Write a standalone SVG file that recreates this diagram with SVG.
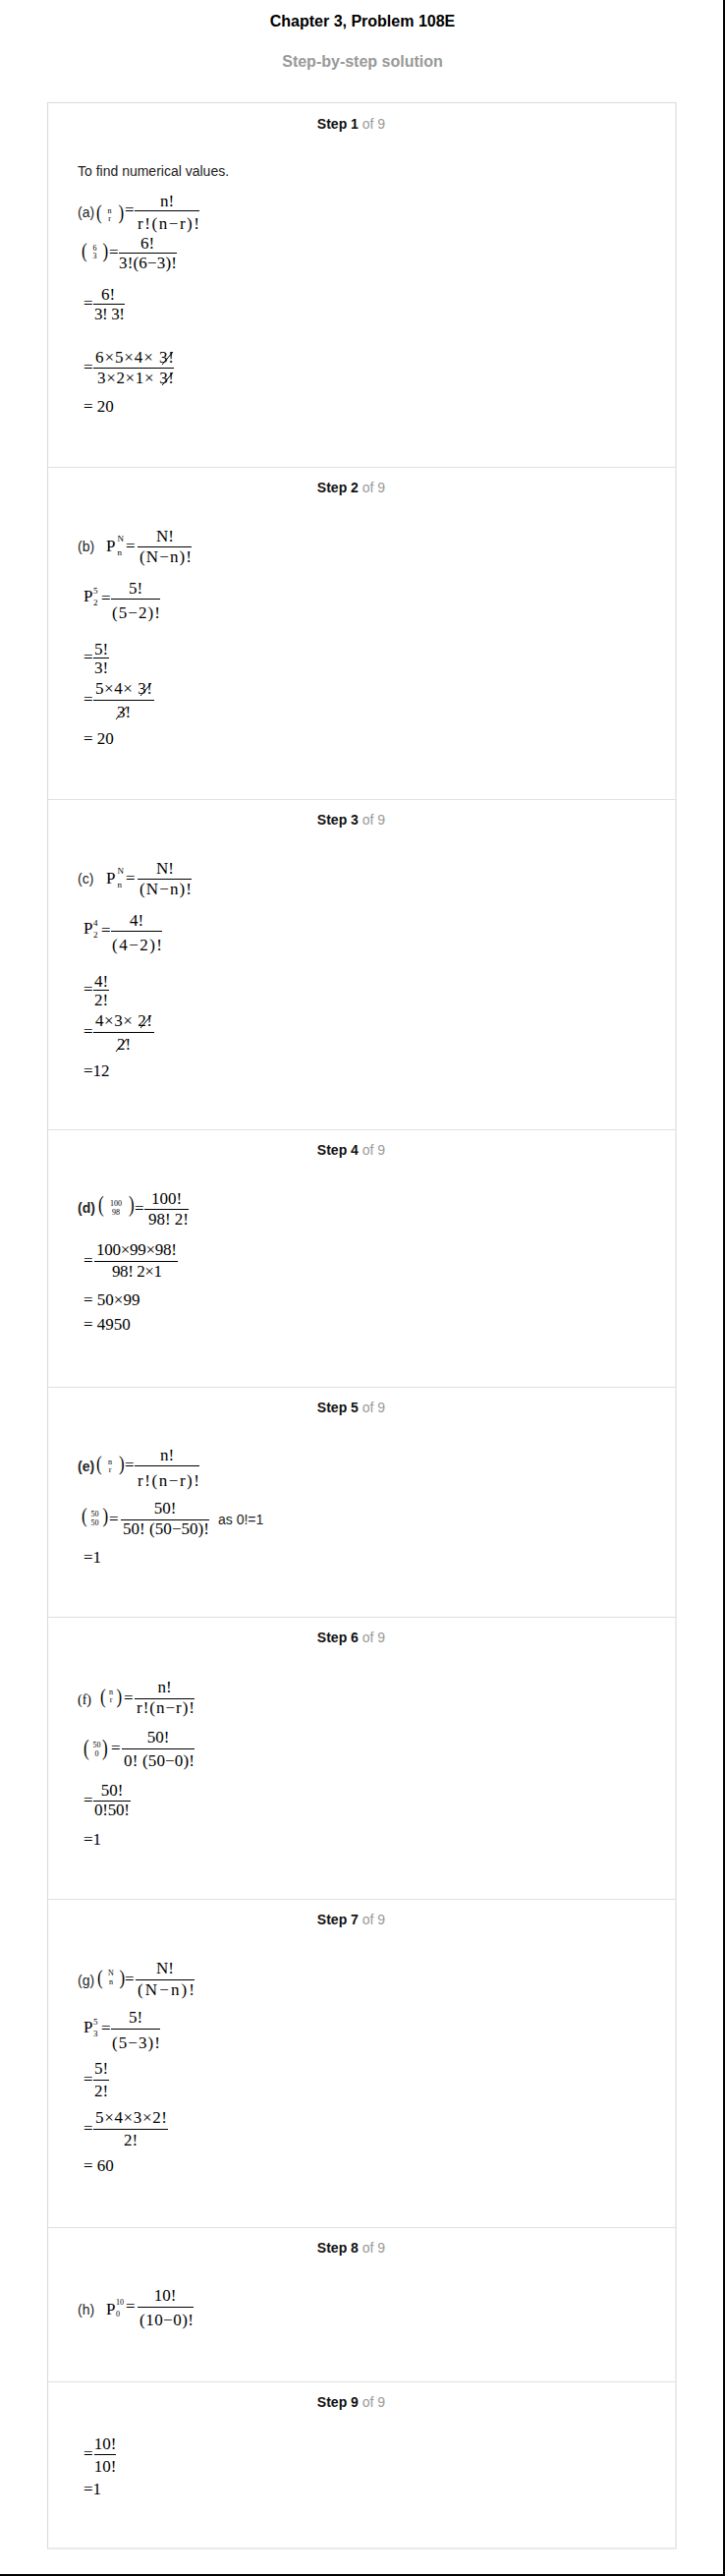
<svg xmlns="http://www.w3.org/2000/svg" width="738" height="2621" viewBox="0 0 738 2621">
<style>
.t{font-family:"Liberation Sans",Arial,sans-serif;font-size:14px;fill:#222}
.b{font-weight:bold}
.ttl{font-family:"Liberation Sans",Arial,sans-serif;font-size:16px;font-weight:bold;text-anchor:middle}
.hd{font-family:"Liberation Sans",Arial,sans-serif;font-size:14px;text-anchor:middle;fill:#111}
.of{font-weight:normal;fill:#999}
.m{font-family:"Liberation Serif","Times New Roman",serif;font-size:17px;fill:#000}
.s{font-family:"Liberation Serif","Times New Roman",serif;font-size:8px;fill:#000;text-anchor:middle}
.sp{font-family:"Liberation Serif","Times New Roman",serif;font-size:9px;fill:#000}
.c{text-anchor:middle}
.fl{stroke:#000;stroke-width:1}
.div{stroke:#e0e0e0;stroke-width:1}
</style>
<rect x="0" y="0" width="738" height="2621" fill="#fff"/>
<rect x="736" y="0" width="2" height="2621" fill="#000"/>
<rect x="0" y="2619" width="738" height="2" fill="#000"/>
<text class="ttl" x="369" y="27" fill="#000">Chapter 3, Problem 108E</text>
<text class="ttl" x="369" y="68" fill="#999">Step-by-step solution</text>
<rect x="48.5" y="104.5" width="639.5" height="2488.5" fill="#fff" stroke="#dcdcdc" stroke-width="1.2"/>
<g id="dividers">
<line class="div" x1="49" y1="475.5" x2="688" y2="475.5"/>
<line class="div" x1="49" y1="813.5" x2="688" y2="813.5"/>
<line class="div" x1="49" y1="1149.5" x2="688" y2="1149.5"/>
<line class="div" x1="49" y1="1411.5" x2="688" y2="1411.5"/>
<line class="div" x1="49" y1="1645.5" x2="688" y2="1645.5"/>
<line class="div" x1="49" y1="1932.5" x2="688" y2="1932.5"/>
<line class="div" x1="49" y1="2266.5" x2="688" y2="2266.5"/>
<line class="div" x1="49" y1="2423.5" x2="688" y2="2423.5"/>
</g>

<g id="step1">
<text class="hd" x="357.5" y="131"><tspan class="b">Step 1</tspan> <tspan class="of">of 9</tspan></text>
<text class="t" x="79" y="179">To find numerical values.</text>
<text class="t" x="79" y="221">(a)</text>
<text class="m" transform="translate(98,223) scale(1,1.2)">(</text>
<text class="s" x="111.5" y="217">n</text>
<text class="s" x="111.5" y="225">r</text>
<text class="m" transform="translate(120.5,223) scale(1,1.2)">)</text>
<text class="m" x="127" y="219">=</text>
<line class="fl" x1="137" y1="214.5" x2="203" y2="214.5"/>
<text class="m c" x="170" y="210">n!</text>
<text class="m" x="140" y="233" textLength="63">r!(n−r)!</text>

<text class="m" transform="translate(83,261.5) scale(1,1.2)">(</text>
<text class="s" x="96.5" y="255">6</text>
<text class="s" x="96.5" y="263">3</text>
<text class="m" transform="translate(104.5,261.5) scale(1,1.2)">)</text>
<text class="m" x="111" y="262">=</text>
<line class="fl" x1="121" y1="257.5" x2="180" y2="257.5"/>
<text class="m c" x="150" y="253">6!</text>
<text class="m" x="121" y="273" textLength="59">3!(6−3)!</text>

<text class="m" x="85" y="314">=</text>
<line class="fl" x1="95" y1="309.5" x2="127" y2="309.5"/>
<text class="m c" x="110" y="305">6!</text>
<text class="m" x="96" y="325" textLength="31">3! 3!</text>

<text class="m" x="85" y="379">=</text>
<line class="fl" x1="95" y1="374.5" x2="177" y2="374.5"/>
<text class="m" x="97" y="369" textLength="80">6×5×4× 3!</text>
<text class="m" x="99" y="390" textLength="78">3×2×1× 3!</text>
<line class="fl" x1="165" y1="371" x2="176" y2="358"/>
<line class="fl" x1="165" y1="392" x2="176" y2="379"/>

<text class="m" x="85" y="419">= 20</text>
</g>

<g id="step2">
<text class="hd" x="357.5" y="501"><tspan class="b">Step 2</tspan> <tspan class="of">of 9</tspan></text>
<text class="t" x="79" y="561">(b)</text>
<text class="m" x="108" y="561">P</text>
<text class="sp" x="119.5" y="551">N</text>
<text class="sp" x="119.5" y="565">n</text>
<text class="m" x="128" y="561">=</text>
<line class="fl" x1="140" y1="556.5" x2="195" y2="556.5"/>
<text class="m c" x="168" y="551">N!</text>
<text class="m" x="142" y="572" textLength="53">(N−n)!</text>

<text class="m" x="85" y="612">P</text>
<text class="sp" x="95" y="604">5</text>
<text class="sp" x="95" y="616">2</text>
<text class="m" x="103" y="613.5">=</text>
<line class="fl" x1="113" y1="609.5" x2="163" y2="609.5"/>
<text class="m c" x="138" y="604">5!</text>
<text class="m" x="114" y="629" textLength="49">(5−2)!</text>

<text class="m" x="85" y="674">=</text>
<line class="fl" x1="95" y1="669.5" x2="111" y2="669.5"/>
<text class="m c" x="103" y="666">5!</text>
<text class="m c" x="103" y="685">3!</text>

<text class="m" x="85" y="717">=</text>
<line class="fl" x1="95" y1="712.5" x2="157" y2="712.5"/>
<text class="m" x="97" y="706" textLength="58">5×4× 3!</text>
<text class="m c" x="126" y="730">3!</text>
<line class="fl" x1="143" y1="708" x2="154" y2="695"/>
<line class="fl" x1="118" y1="732" x2="129" y2="719"/>

<text class="m" x="85" y="757">= 20</text>
</g>

<g id="step3">
<text class="hd" x="357.5" y="839"><tspan class="b">Step 3</tspan> <tspan class="of">of 9</tspan></text>
<text class="t" x="79" y="899">(c)</text>
<text class="m" x="108" y="899">P</text>
<text class="sp" x="119.5" y="889">N</text>
<text class="sp" x="119.5" y="903">n</text>
<text class="m" x="128" y="899">=</text>
<line class="fl" x1="140" y1="894.5" x2="195" y2="894.5"/>
<text class="m c" x="168" y="889">N!</text>
<text class="m" x="142" y="910" textLength="53">(N−n)!</text>

<text class="m" x="85" y="950">P</text>
<text class="sp" x="95" y="942">4</text>
<text class="sp" x="95" y="954">2</text>
<text class="m" x="103" y="951.5">=</text>
<line class="fl" x1="113" y1="947.5" x2="165" y2="947.5"/>
<text class="m c" x="139" y="942">4!</text>
<text class="m" x="114" y="967" textLength="51">(4−2)!</text>

<text class="m" x="85" y="1012">=</text>
<line class="fl" x1="95" y1="1007.5" x2="111" y2="1007.5"/>
<text class="m c" x="103" y="1004">4!</text>
<text class="m c" x="103" y="1023">2!</text>

<text class="m" x="85" y="1055">=</text>
<line class="fl" x1="95" y1="1050.5" x2="157" y2="1050.5"/>
<text class="m" x="97" y="1044" textLength="58">4×3× 2!</text>
<text class="m c" x="126" y="1068">2!</text>
<line class="fl" x1="143" y1="1046" x2="154" y2="1033"/>
<line class="fl" x1="118" y1="1070" x2="129" y2="1057"/>

<text class="m" x="85" y="1095">=12</text>
</g>

<g id="step4">
<text class="hd" x="357.5" y="1175"><tspan class="b">Step 4</tspan> <tspan class="of">of 9</tspan></text>
<text class="t b" x="79" y="1234">(d)</text>
<text class="m" transform="translate(100,1233) scale(1,1.4)">(</text>
<text class="s" x="118" y="1227">100</text>
<text class="s" x="118" y="1236">98</text>
<text class="m" transform="translate(131,1233) scale(1,1.4)">)</text>
<text class="m" x="137" y="1235">=</text>
<line class="fl" x1="147" y1="1230.5" x2="192" y2="1230.5"/>
<text class="m c" x="169.5" y="1225">100!</text>
<text class="m" x="151" y="1246" textLength="41">98! 2!</text>

<text class="m" x="85" y="1288">=</text>
<line class="fl" x1="96" y1="1283.5" x2="181" y2="1283.5"/>
<text class="m" x="98" y="1277" textLength="82">100×99×98!</text>
<text class="m" x="114" y="1299" textLength="51">98! 2×1</text>

<text class="m" x="85" y="1328">= 50×99</text>
<text class="m" x="85" y="1353">= 4950</text>
</g>

<g id="step5">
<text class="hd" x="357.5" y="1437"><tspan class="b">Step 5</tspan> <tspan class="of">of 9</tspan></text>
<text class="t b" x="79" y="1497">(e)</text>
<text class="m" transform="translate(98,1496) scale(1,1.2)">(</text>
<text class="s" x="112" y="1490">n</text>
<text class="s" x="112" y="1498">r</text>
<text class="m" transform="translate(121,1496) scale(1,1.2)">)</text>
<text class="m" x="127" y="1496">=</text>
<line class="fl" x1="137" y1="1491.5" x2="203" y2="1491.5"/>
<text class="m c" x="170" y="1486">n!</text>
<text class="m" x="140" y="1512" textLength="63">r!(n−r)!</text>

<text class="m" transform="translate(83,1549) scale(1,1.25)">(</text>
<text class="s" x="96.5" y="1543">50</text>
<text class="s" x="96.5" y="1552">50</text>
<text class="m" transform="translate(104.5,1549) scale(1,1.25)">)</text>
<text class="m" x="111" y="1551">=</text>
<line class="fl" x1="123" y1="1546.5" x2="213" y2="1546.5"/>
<text class="m c" x="168" y="1540">50!</text>
<text class="m" x="125" y="1561" textLength="88">50! (50−50)!</text>
<text class="t" x="222" y="1551">as 0!=1</text>

<text class="m" x="85" y="1590">=1</text>
</g>

<g id="step6">
<text class="hd" x="357.5" y="1671"><tspan class="b">Step 6</tspan> <tspan class="of">of 9</tspan></text>
<text class="m" x="79" y="1734" style="font-size:14px">(f)</text>
<text class="m" transform="translate(102,1733) scale(1,1.25)">(</text>
<text class="s" x="113" y="1724">n</text>
<text class="s" x="113" y="1732">r</text>
<text class="m" transform="translate(118.5,1733) scale(1,1.25)">)</text>
<text class="m" x="126" y="1733">=</text>
<line class="fl" x1="137" y1="1728.5" x2="198" y2="1728.5"/>
<text class="m c" x="167.5" y="1722">n!</text>
<text class="m" x="139" y="1743" textLength="59">r!(n−r)!</text>

<text class="m" transform="translate(85,1786) scale(1,1.3)">(</text>
<text class="s" x="98.5" y="1778">50</text>
<text class="s" x="98.5" y="1787">0</text>
<text class="m" transform="translate(104,1786) scale(1,1.3)">)</text>
<text class="m" x="113" y="1784">=</text>
<line class="fl" x1="124" y1="1779.5" x2="198" y2="1779.5"/>
<text class="m c" x="161" y="1773">50!</text>
<text class="m" x="126" y="1797" textLength="72">0! (50−0)!</text>

<text class="m" x="85" y="1837">=</text>
<line class="fl" x1="95" y1="1832.5" x2="133" y2="1832.5"/>
<text class="m c" x="114" y="1827">50!</text>
<text class="m" x="96" y="1847" textLength="36">0!50!</text>

<text class="m" x="85" y="1877">=1</text>
</g>

<g id="step7">
<text class="hd" x="357.5" y="1958"><tspan class="b">Step 7</tspan> <tspan class="of">of 9</tspan></text>
<text class="t" x="79" y="2020">(g)</text>
<text class="m" transform="translate(99,2019) scale(1,1.25)">(</text>
<text class="s" x="113" y="2010">N</text>
<text class="s" x="113" y="2019">n</text>
<text class="m" transform="translate(121.5,2019) scale(1,1.25)">)</text>
<text class="m" x="127" y="2019">=</text>
<line class="fl" x1="138" y1="2014.5" x2="198" y2="2014.5"/>
<text class="m c" x="168" y="2008">N!</text>
<text class="m" x="140" y="2030" textLength="58">(N−n)!</text>

<text class="m" x="85" y="2068">P</text>
<text class="sp" x="95" y="2060">5</text>
<text class="sp" x="95" y="2072">3</text>
<text class="m" x="103" y="2069">=</text>
<line class="fl" x1="113" y1="2064.5" x2="163" y2="2064.5"/>
<text class="m c" x="138" y="2058">5!</text>
<text class="m" x="114" y="2084" textLength="49">(5−3)!</text>

<text class="m" x="85" y="2121">=</text>
<line class="fl" x1="95" y1="2116.5" x2="111" y2="2116.5"/>
<text class="m c" x="103" y="2110">5!</text>
<text class="m c" x="103" y="2133">2!</text>

<text class="m" x="85" y="2171">=</text>
<line class="fl" x1="95" y1="2166.5" x2="171" y2="2166.5"/>
<text class="m" x="97" y="2160" textLength="73">5×4×3×2!</text>
<text class="m c" x="133" y="2183">2!</text>

<text class="m" x="85" y="2209">= 60</text>
</g>

<g id="step8">
<text class="hd" x="357.5" y="2292"><tspan class="b">Step 8</tspan> <tspan class="of">of 9</tspan></text>
<text class="t" x="79" y="2355">(h)</text>
<text class="m" x="108" y="2355">P</text>
<text class="sp" x="118" y="2345" style="font-size:8px">10</text>
<text class="sp" x="118" y="2357" style="font-size:8px">0</text>
<text class="m" x="128" y="2352">=</text>
<line class="fl" x1="140" y1="2347.5" x2="197" y2="2347.5"/>
<text class="m c" x="168" y="2341">10!</text>
<text class="m" x="142" y="2366" textLength="55">(10−0)!</text>
</g>

<g id="step9">
<text class="hd" x="357.5" y="2449"><tspan class="b">Step 9</tspan> <tspan class="of">of 9</tspan></text>
<text class="m" x="85" y="2502">=</text>
<line class="fl" x1="96" y1="2497.5" x2="118" y2="2497.5"/>
<text class="m c" x="107" y="2492">10!</text>
<text class="m c" x="107" y="2515">10!</text>
<text class="m" x="85" y="2538">=1</text>
</g>
</svg>
